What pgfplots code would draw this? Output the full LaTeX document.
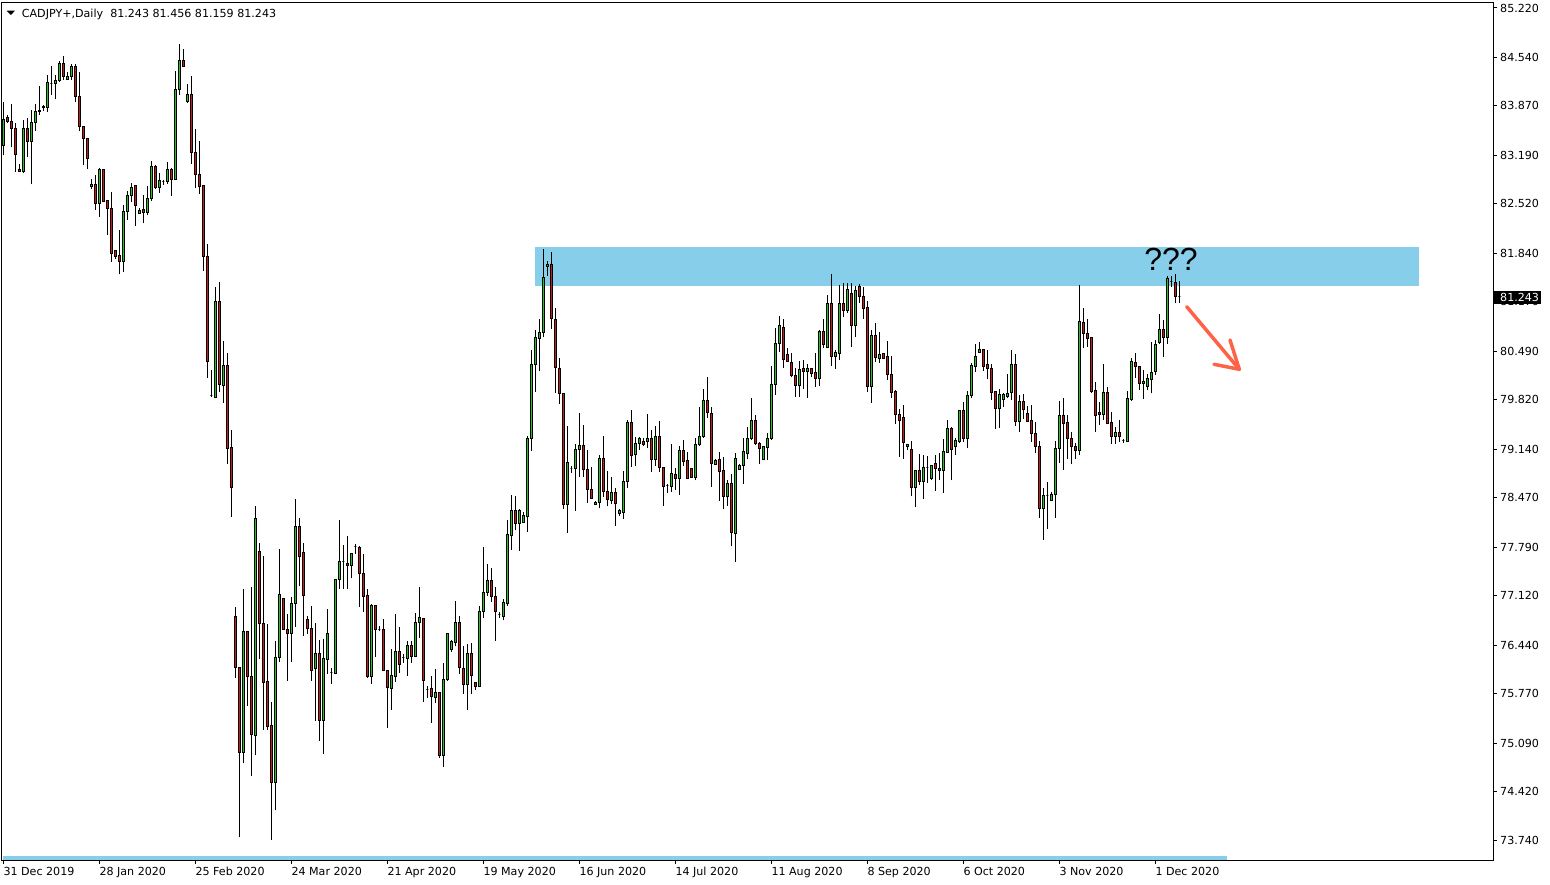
\documentclass[border=0pt]{standalone}
\usepackage{fontspec}
\setmainfont{DejaVu Sans}
\newfontfamily\arialfont{Liberation Sans}
\usepackage{pgfplots}
\usepackage{pgfplotstable}
\pgfplotsset{compat=1.18}
\definecolor{cgreen}{RGB}{30,200,30}
\definecolor{cred}{RGB}{205,25,25}
\definecolor{zone}{RGB}{135,206,235}
\definecolor{arrowc}{RGB}{255,99,71}
\pgfdeclareplotmark{candle}{%
  \ifdim\cbody pt>0pt\relax\pgfsetfillcolor{cgreen}\else\pgfsetfillcolor{cred}\fi
  \pgfsetlinewidth{1pt}%
  \pgfsetstrokecolor{black}%
  \pgfpathmoveto{\pgfqpoint{0pt}{\clow pt}}%
  \pgfpathlineto{\pgfqpoint{0pt}{\chigh pt}}%
  \pgfusepath{stroke}%
  \pgfpathrectangle{\pgfqpoint{-1pt}{0pt}}{\pgfqpoint{2pt}{\cbody pt}}%
  \pgfusepath{fill,stroke}%
}
\pgfplotstableread{
i O H L C
0 83.33 83.92 83.19 83.68
1 83.71 83.75 83.63 83.66
2 83.66 83.90 83.30 83.56
3 83.56 83.64 82.96 83.20
4 83.00 83.07 82.96 82.97
5 82.96 83.67 82.95 83.56
6 83.56 83.71 83.16 83.38
7 83.38 83.82 82.79 83.64
8 83.64 83.89 83.53 83.80
9 83.80 84.14 83.75 83.81
10 83.86 83.88 83.80 83.85
11 83.85 84.30 83.79 84.19
12 84.18 84.42 84.02 84.18
13 84.18 84.30 83.96 84.22
14 84.22 84.49 84.20 84.46
15 84.46 84.56 84.23 84.28
16 84.24 84.34 84.23 84.28
17 84.28 84.45 84.23 84.42
18 84.42 84.45 83.92 84.00
19 84.00 84.34 83.52 83.59
20 83.59 83.59 83.05 83.42
21 83.42 83.42 83.00 83.15
22 82.76 82.86 82.73 82.79
23 82.79 82.92 82.44 82.53
24 82.53 83.02 82.34 82.99
25 83.00 83.00 82.54 82.55
26 82.56 82.56 82.09 82.46
27 82.46 82.68 81.72 81.84
28 81.88 81.88 81.76 81.80
29 81.81 82.16 81.55 81.73
30 81.73 82.50 81.58 82.42
31 82.42 82.70 82.30 82.63
32 82.63 82.81 82.54 82.75
33 82.77 82.77 82.22 82.50
34 82.39 82.47 82.38 82.43
35 82.44 82.64 82.25 82.40
36 82.40 82.77 82.37 82.60
37 82.60 83.11 82.56 83.04
38 83.04 83.06 82.73 82.74
39 82.74 82.95 82.67 82.84
40 82.83 82.85 82.78 82.83
41 82.83 83.10 82.80 83.00
42 83.00 83.02 82.63 82.86
43 82.86 84.35 82.85 84.09
44 84.09 84.72 84.02 84.49
45 84.50 84.66 84.41 84.42
46 83.93 84.17 83.91 84.03
47 84.03 84.28 83.07 83.23
48 83.23 83.55 82.74 82.92
49 82.93 83.39 82.66 82.76
50 82.77 82.77 81.60 81.79
51 81.80 81.97 80.12 80.35
52 79.88 80.23 79.86 79.88
53 79.85 81.38 79.85 81.18
54 81.18 81.45 79.93 80.03
55 80.02 80.63 79.78 80.29
56 80.29 80.47 78.94 79.15
57 79.16 79.40 78.21 78.61
58 76.83 76.97 75.99 76.13
59 76.13 76.13 73.79 74.96
60 74.96 77.21 74.81 76.62
61 76.63 76.63 75.60 76.00
62 76.01 77.24 74.63 75.21
63 75.19 78.35 74.92 78.19
64 77.73 77.85 76.25 76.74
65 76.74 77.67 75.27 75.93
66 75.94 76.73 75.27 75.32
67 75.33 75.66 73.75 74.54
68 74.54 76.50 74.16 76.27
69 76.27 77.76 76.21 77.14
70 77.08 77.08 76.65 76.65
71 76.65 76.87 75.95 76.60
72 76.60 77.10 76.21 77.01
73 77.01 78.45 76.69 78.07
74 78.07 78.19 77.25 77.66
75 77.72 77.85 76.57 77.12
76 76.79 76.84 76.59 76.67
77 76.67 76.98 75.95 76.09
78 76.11 76.74 75.40 76.33
79 76.33 76.51 75.12 75.40
80 75.40 76.53 74.94 76.26
81 76.24 76.94 76.04 76.60
82 76.06 76.12 75.91 76.06
83 76.05 77.34 76.04 77.34
84 77.35 78.16 77.21 77.59
85 77.59 77.82 77.21 77.59
86 77.57 77.94 77.21 77.53
87 77.54 77.71 77.36 77.70
88 77.80 77.83 77.70 77.80
89 77.79 77.81 76.97 77.42
90 77.42 77.70 76.89 77.11
91 77.12 77.21 75.98 76.00
92 76.00 77.00 75.91 76.99
93 76.98 76.98 76.28 76.65
94 76.66 76.70 76.63 76.66
95 76.66 76.80 76.08 76.09
96 76.09 76.09 75.29 75.86
97 75.84 76.39 75.55 76.02
98 76.01 76.87 75.93 76.35
99 76.35 76.69 76.06 76.17
100 76.27 76.31 76.19 76.27
101 76.26 76.50 76.02 76.44
102 76.44 76.50 76.19 76.28
103 76.28 76.88 76.27 76.75
104 76.75 77.24 76.54 76.82
105 76.81 76.81 75.65 75.95
106 75.83 75.87 75.71 75.83
107 75.84 76.01 75.37 75.73
108 75.72 76.11 75.64 75.79
109 75.79 75.79 74.89 74.92
110 74.92 76.19 74.76 75.97
111 75.97 76.60 75.95 76.60
112 76.38 76.51 76.35 76.49
113 76.48 77.05 76.42 76.75
114 76.75 76.84 76.04 76.13
115 76.12 76.42 75.77 75.90
116 75.90 76.46 75.55 76.32
117 76.32 76.47 75.76 76.02
118 75.93 75.93 75.82 75.87
119 75.87 76.98 75.87 76.90
120 76.90 77.79 76.81 77.17
121 77.17 77.56 77.12 77.33
122 77.33 77.50 77.04 77.11
123 77.11 77.24 76.50 76.90
124 76.86 76.89 76.81 76.86
125 76.84 77.07 76.78 77.02
126 77.01 78.16 76.98 77.96
127 77.95 78.51 77.75 78.29
128 78.29 78.49 78.02 78.12
129 78.12 78.31 77.74 78.29
130 78.13 78.27 78.12 78.22
131 78.21 79.32 78.00 79.28
132 79.28 80.51 79.12 80.31
133 80.31 80.78 79.93 80.68
134 80.67 80.93 80.21 80.75
135 80.75 81.90 80.68 81.51
136 81.66 81.73 81.52 81.69
137 81.69 81.85 80.80 80.94
138 80.93 81.09 79.92 80.26
139 80.25 80.40 79.76 79.90
140 79.90 79.91 78.32 78.38
141 78.38 79.46 77.99 78.96
142 78.88 78.91 78.81 78.88
143 78.88 79.21 78.29 79.14
144 79.14 79.64 78.76 79.19
145 79.19 79.47 78.75 78.86
146 78.86 79.13 78.40 78.59
147 78.59 78.89 78.45 78.46
148 78.38 78.43 78.37 78.41
149 78.41 79.06 78.33 79.01
150 79.01 79.32 78.48 78.56
151 78.56 78.84 78.35 78.45
152 78.43 78.76 78.38 78.54
153 78.54 78.61 78.08 78.39
154 78.25 78.32 78.22 78.29
155 78.26 78.84 78.18 78.70
156 78.70 79.54 78.60 79.51
157 79.51 79.68 78.90 79.05
158 79.07 79.31 78.91 79.22
159 79.22 79.31 79.13 79.28
160 79.24 79.30 79.19 79.21
161 79.25 79.63 79.16 79.29
162 79.29 79.40 78.82 79.00
163 79.00 79.46 78.91 79.32
164 79.32 79.53 78.82 78.89
165 78.89 78.89 78.36 78.62
166 78.64 78.66 78.53 78.64
167 78.62 79.21 78.55 78.81
168 78.79 78.88 78.58 78.73
169 78.73 79.18 78.51 79.12
170 79.12 79.27 78.91 78.97
171 78.98 79.10 78.74 78.74
172 78.88 78.88 78.75 78.75
173 78.75 79.30 78.71 79.21
174 79.21 79.72 79.19 79.32
175 79.32 79.97 79.30 79.81
176 79.81 80.13 79.57 79.64
177 79.63 79.72 78.62 78.94
178 78.93 79.01 78.92 78.99
179 79.00 79.10 78.43 78.83
180 78.84 79.03 78.31 78.49
181 78.49 78.72 78.36 78.67
182 78.67 78.80 77.80 77.99
183 77.98 79.09 77.59 79.01
184 78.86 78.94 78.85 78.92
185 78.92 79.29 78.66 79.11
186 79.08 79.44 79.00 79.29
187 79.29 79.85 79.26 79.54
188 79.54 79.61 79.20 79.22
189 79.22 79.24 78.94 79.15
190 79.00 79.19 78.99 79.18
191 79.16 79.36 78.99 79.29
192 79.28 80.29 79.26 80.03
193 80.03 80.81 79.89 80.59
194 80.59 80.98 80.48 80.84
195 80.82 80.93 80.26 80.38
196 80.45 80.53 80.34 80.35
197 80.34 80.46 80.13 80.15
198 80.16 80.26 79.86 80.02
199 80.02 80.35 79.86 80.24
200 80.25 80.37 79.97 80.21
201 80.21 80.31 79.85 80.25
202 80.25 80.26 80.14 80.18
203 80.19 80.47 80.00 80.12
204 80.12 80.78 80.01 80.76
205 80.76 80.93 80.53 80.58
206 80.54 81.27 80.53 81.15
207 81.15 81.56 80.28 80.42
208 80.42 80.51 80.25 80.47
209 80.46 81.40 80.37 81.15
210 81.15 81.43 80.96 81.05
211 81.05 81.43 81.01 81.34
212 81.29 81.43 80.55 80.85
213 80.84 81.39 80.69 81.33
214 81.38 81.42 81.16 81.24
215 81.25 81.37 80.94 81.08
216 81.09 81.18 79.93 80.00
217 80.00 80.78 79.78 80.70
218 80.70 80.88 80.34 80.40
219 80.39 80.75 80.33 80.44
220 80.46 80.46 80.38 80.39
221 80.41 80.63 80.09 80.17
222 80.17 80.42 79.84 79.92
223 79.93 79.96 79.49 79.62
224 79.62 79.70 79.03 79.53
225 79.58 79.75 79.00 79.23
226 79.17 79.21 79.13 79.20
227 79.14 79.25 78.49 78.61
228 78.61 78.85 78.34 78.85
229 78.84 79.07 78.64 78.69
230 78.69 79.06 78.45 78.89
231 78.89 79.04 78.67 78.89
232 78.74 78.92 78.71 78.92
233 78.94 79.06 78.56 78.87
234 78.88 79.08 78.72 78.85
235 78.84 79.28 78.54 79.11
236 79.09 79.54 79.08 79.43
237 79.43 79.45 78.71 79.13
238 79.17 79.30 79.06 79.26
239 79.24 79.67 79.23 79.67
240 79.67 79.79 79.24 79.28
241 79.28 79.94 79.16 79.88
242 79.88 80.33 79.84 80.29
243 80.28 80.59 80.20 80.42
244 80.47 80.62 80.46 80.52
245 80.52 80.52 80.22 80.28
246 80.30 80.51 80.10 80.25
247 80.25 80.32 79.82 79.92
248 79.93 79.93 79.42 79.70
249 79.70 79.97 79.43 79.89
250 79.83 79.91 79.72 79.89
251 79.86 80.18 79.85 79.90
252 79.92 80.51 79.82 80.31
253 80.30 80.45 79.46 79.52
254 79.52 79.88 79.38 79.79
255 79.79 79.90 79.55 79.68
256 79.63 79.73 79.51 79.52
257 79.54 79.75 79.24 79.35
258 79.36 79.51 79.08 79.18
259 79.18 79.25 78.19 78.32
260 78.32 78.61 77.89 78.50
261 78.50 78.69 78.04 78.50
262 78.43 78.55 78.43 78.52
263 78.51 79.25 78.19 79.15
264 79.15 79.80 78.95 79.61
265 79.61 79.85 78.85 79.50
266 79.51 79.61 79.01 79.28
267 79.29 79.37 78.93 79.17
268 79.18 79.22 79.01 79.12
269 79.12 81.40 79.06 80.90
270 80.89 81.09 80.54 80.73
271 80.74 80.93 80.55 80.66
272 80.68 80.68 79.91 79.94
273 79.95 80.07 79.38 79.60
274 79.65 79.79 79.47 79.62
275 79.62 80.31 79.54 79.92
276 79.92 79.99 79.49 79.50
277 79.51 79.65 79.21 79.32
278 79.32 79.45 79.21 79.37
279 79.37 79.54 79.24 79.32
280 79.26 79.28 79.23 79.26
281 79.25 79.94 79.24 79.84
282 79.82 80.39 79.80 80.35
283 80.34 80.46 80.12 80.28
284 80.28 80.28 79.95 80.04
285 80.04 80.23 79.83 80.07
286 80.00 80.17 79.95 80.11
287 80.10 80.62 79.91 80.20
288 80.21 80.64 80.16 80.58
289 80.61 81.00 80.59 80.79
290 80.79 80.92 80.41 80.68
291 80.68 81.52 80.59 81.49
292 81.45 81.53 81.38 81.45
293 81.44 81.55 81.15 81.24
294 81.243 81.456 81.159 81.243
}\candles
\begin{document}
\begin{tikzpicture}[x=1pt,y=1pt]
\useasboundingbox (0,0) rectangle (1550,884);
\fill[white] (0,0) rectangle (1550,884);
% resistance zone
\fill[zone] (535,598.3) rectangle (1418.7,637.3);
% bottom strip
\fill[zone] (3,24.5) rectangle (1226.7,28);
\begin{axis}[
  at={(2pt,24pt)}, anchor=south west,
  scale only axis, width=1491.3pt, height=857.3pt,
  xmin=-0.33, xmax=372.5, ymin=73.4775, ymax=85.2928,
  axis line style={line width=1pt, black},
  tick style={black, line width=1pt},
  major tick length=3.5pt,
  tick align=outside,
  xtick pos=left, ytick pos=right,
  yticklabel pos=right,
  xtick={0,24,...,288},
  xticklabels={31 Dec 2019,28 Jan 2020,25 Feb 2020,24 Mar 2020,21 Apr 2020,19 May 2020,16 Jun 2020,14 Jul 2020,11 Aug 2020,8 Sep 2020,6 Oct 2020,3 Nov 2020,1 Dec 2020},
  ytick={73.74,74.42,75.09,75.77,76.44,77.12,77.79,78.47,79.14,79.82,80.49,81.17,81.84,82.52,83.19,83.87,84.54,85.22},
  yticklabels={73.740,74.420,75.090,75.770,76.440,77.120,77.790,78.470,79.140,79.820,80.490,81.170,81.840,82.520,83.190,83.870,84.540,85.220},
  tick label style={font=\fontsize{11.1}{13}\selectfont, text=black},
  xticklabel style={anchor=base west, inner sep=0pt, yshift=-12.2pt},
  yticklabel style={anchor=west, inner sep=0pt, xshift=3.2pt},
]
\addplot[scatter, only marks, mark=candle,
  scatter/@pre marker code/.code={},
  scatter/@post marker code/.code={},
  visualization depends on={(\thisrow{C}-\thisrow{O})*72.558 \as \cbody},
  visualization depends on={(\thisrow{H}-\thisrow{O})*72.558 \as \chigh},
  visualization depends on={(\thisrow{L}-\thisrow{O})*72.558 \as \clow},
] table[x=i,y=O]{\candles};
\end{axis}
% title
\fill[black] (6.7,873.3) -- (15,873.3) -- (10.85,869) -- cycle;
\node[anchor=base west, inner sep=0pt] at (21.7,866.65) {\fontsize{11.1}{13}\selectfont CADJPY+,Daily\ \ 81.243 81.456 81.159 81.243};
% current price box
\fill[black] (1494,580) rectangle (1541,593.3);
\node[anchor=west, inner sep=0pt, text=white] at (1500,586.65) {\fontsize{11.1}{13}\selectfont 81.243};
% annotation
\node[inner sep=0pt] at (1171,624.5) {\arialfont\fontsize{32}{36}\selectfont ???};
\draw[arrowc, line width=3.5pt, line cap=round, line join=round] (1186.7,577.3) -- (1239.3,514.7);
\draw[arrowc, line width=3.5pt, line cap=round, line join=round] (1230,544) -- (1239.3,514.7) -- (1214,519.7);
\end{tikzpicture}
\end{document}
